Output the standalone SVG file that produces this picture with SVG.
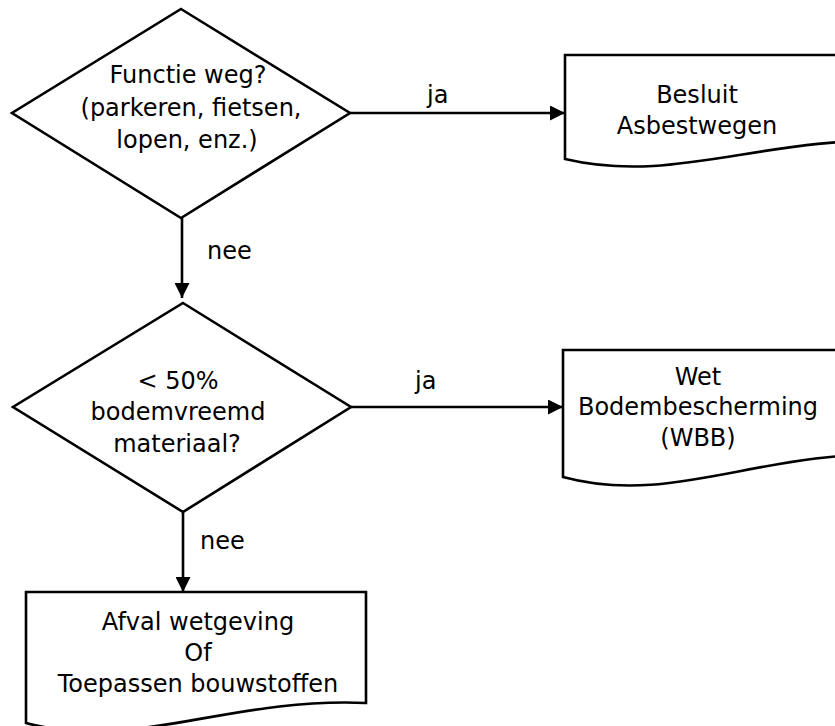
<svg xmlns="http://www.w3.org/2000/svg" width="835" height="726" viewBox="0 0 835 726">
<style>
.shape{fill:#fff;stroke:#000;stroke-width:2.6;stroke-linejoin:miter}
.t{font-family:"DejaVu Sans","Verdana",sans-serif;font-size:24px;fill:#000}
.m{text-anchor:middle}
.conn{stroke:#000;stroke-width:2.6;fill:none}
</style>
<defs>
<marker id="arr" markerWidth="15" markerHeight="15" refX="15" refY="7.5" orient="auto" markerUnits="userSpaceOnUse">
<path d="M0,0 L15,7.5 L0,15 Z" fill="#000"/>
</marker>
</defs>
<rect width="835" height="726" fill="#fff"/>
<g id="connectors">
<line class="conn" x1="350" y1="113" x2="565" y2="113" marker-end="url(#arr)"/>
<line class="conn" x1="182" y1="218" x2="182" y2="298" marker-end="url(#arr)"/>
<line class="conn" x1="351" y1="407" x2="563" y2="407" marker-end="url(#arr)"/>
<line class="conn" x1="183" y1="512" x2="183" y2="592" marker-end="url(#arr)"/>
<text class="t" x="427" y="103">ja</text>
<text class="t" x="207" y="259">nee</text>
<text class="t" x="415" y="389">ja</text>
<text class="t" x="200" y="549">nee</text>
</g>
<g id="decision1">
<polygon class="shape" points="181,9 350,113 181,218 12,113"/>
<text class="t m" x="188" y="83">Functie weg?</text>
<text class="t m" x="191" y="116">(parkeren, fietsen,</text>
<text class="t m" x="187" y="148">lopen, enz.)</text>
</g>
<g id="doc1">
<path class="shape" d="M565,159 V55 H905 V141 C765,135 675,185 565,159 Z"/>
<text class="t m" x="697" y="103">Besluit</text>
<text class="t m" x="697" y="134">Asbestwegen</text>
</g>
<g id="decision2">
<polygon class="shape" points="183,303 351,407 183,512 13,407"/>
<text class="t m" x="178" y="389">&lt; 50%</text>
<text class="t m" x="178" y="420">bodemvreemd</text>
<text class="t m" x="177" y="452">materiaal?</text>
</g>
<g id="doc2">
<path class="shape" d="M563,477 V350 H903 V455 C763,448 673,507 563,477 Z"/>
<text class="t m" x="698" y="385">Wet</text>
<text class="t m" x="698" y="415">Bodembescherming</text>
<text class="t m" x="698" y="446">(WBB)</text>
</g>
<g id="doc3">
<path class="shape" d="M26,723 V592 H366 V703 C226,697 136,752 26,723 Z"/>
<text class="t m" x="198" y="630">Afval wetgeving</text>
<text class="t m" x="198" y="661">Of</text>
<text class="t m" x="198" y="692">Toepassen bouwstoffen</text>
</g>
</svg>
